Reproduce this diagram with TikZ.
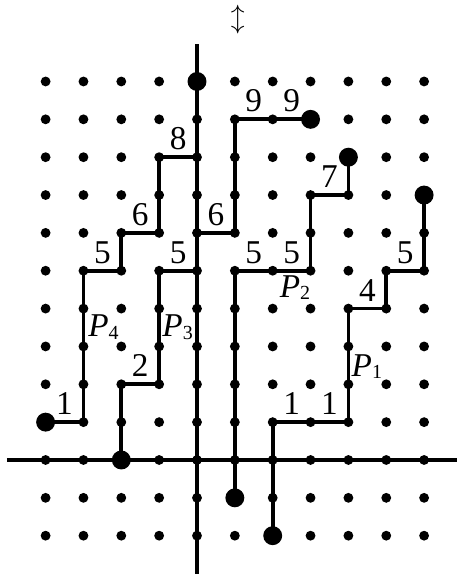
\documentclass[tikz,border=0pt]{standalone}
\usepackage{fontspec}
\setmainfont{Liberation Serif}
\begin{document}
\begin{tikzpicture}[
  lpath/.style={line width=2.8pt, line join=miter},
  smalldot/.style={radius=0.13},
  bigdot/.style={radius=0.25},
  num/.style={anchor=base, inner sep=0pt, font=\fontsize{25}{29}\selectfont},
  plab/.style={anchor=base west, inner sep=0pt, font=\fontsize{25}{29}\selectfont}
]
\useasboundingbox (-5.205,-3.118) rectangle (6.869,12.153);
\newcommand{\Plab}[1]{\textit{P}\raisebox{-0.06cm}{\fontsize{15}{17}\selectfont #1}}
% grid points
\foreach \x in {-4,...,6} {
  \foreach \y in {-2,...,10} {
    \coordinate (p\x x\y) at (\x,\y);
    \fill (p\x x\y) circle[smalldot];
  }
}
% axes
\coordinate (axl) at (-5.02,0);
\coordinate (axr) at (6.87,0);
\coordinate (axb) at (0,-3);
\coordinate (axt) at (0,11);
\draw[lpath] (axl) -- (axr);
\draw[lpath] (axb) -- (axt);
% P1
\draw[lpath] (p2x-2) -- (p2x1) -- (p4x1) -- (p4x4) -- (p5x4) -- (p5x5) -- (p6x5) -- (p6x7);
% P2
\draw[lpath] (p1x-1) -- (p1x5) -- (p3x5) -- (p3x7) -- (p4x7) -- (p4x8);
% P3
\draw[lpath] (p-2x0) -- (p-2x2) -- (p-1x2) -- (p-1x5) -- (p0x5) -- (p0x6) -- (p1x6) -- (p1x9) -- (p3x9);
% P4
\draw[lpath] (p-4x1) -- (p-3x1) -- (p-3x5) -- (p-2x5) -- (p-2x6) -- (p-1x6) -- (p-1x8) -- (p0x8) -- (p0x10);
% endpoints
\foreach \p in {p0x10, p3x9, p4x8, p6x7, p-4x1, p-2x0, p1x-1, p2x-2} {
  \fill (\p) circle[bigdot];
}
% step labels
\node[num] (l1a) at (2.5,1.2) {1};
\node[num] (l1b) at (3.5,1.2) {1};
\node[num] (l4) at (4.5,4.2) {4};
\node[num] (l5r) at (5.5,5.2) {5};
\node[num] (l5a) at (1.5,5.2) {5};
\node[num] (l5b) at (2.5,5.2) {5};
\node[num] (l7) at (3.5,7.2) {7};
\node[num] (l2) at (-1.5,2.2) {2};
\node[num] (l5c) at (-0.5,5.2) {5};
\node[num] (l6a) at (0.5,6.2) {6};
\node[num] (l9a) at (1.5,9.2) {9};
\node[num] (l9b) at (2.5,9.2) {9};
\node[num] (l1c) at (-3.5,1.2) {1};
\node[num] (l5d) at (-2.5,5.2) {5};
\node[num] (l6b) at (-1.5,6.2) {6};
\node[num] (l8) at (-0.5,8.2) {8};
% path labels
\node[plab] (P1) at (4.08,2.2) {\Plab{1}};
\node[plab] (P2) at (2.18,4.3) {\Plab{2}};
\node[plab] (P3) at (-0.92,3.25) {\Plab{3}};
\node[plab] (P4) at (-2.88,3.25) {\Plab{4}};
% top symbol
\node[inner sep=0pt, font=\fontsize{22}{26}\selectfont] (arr) at (1.08,11.64) {$\updownarrow$};
\end{tikzpicture}
\end{document}
